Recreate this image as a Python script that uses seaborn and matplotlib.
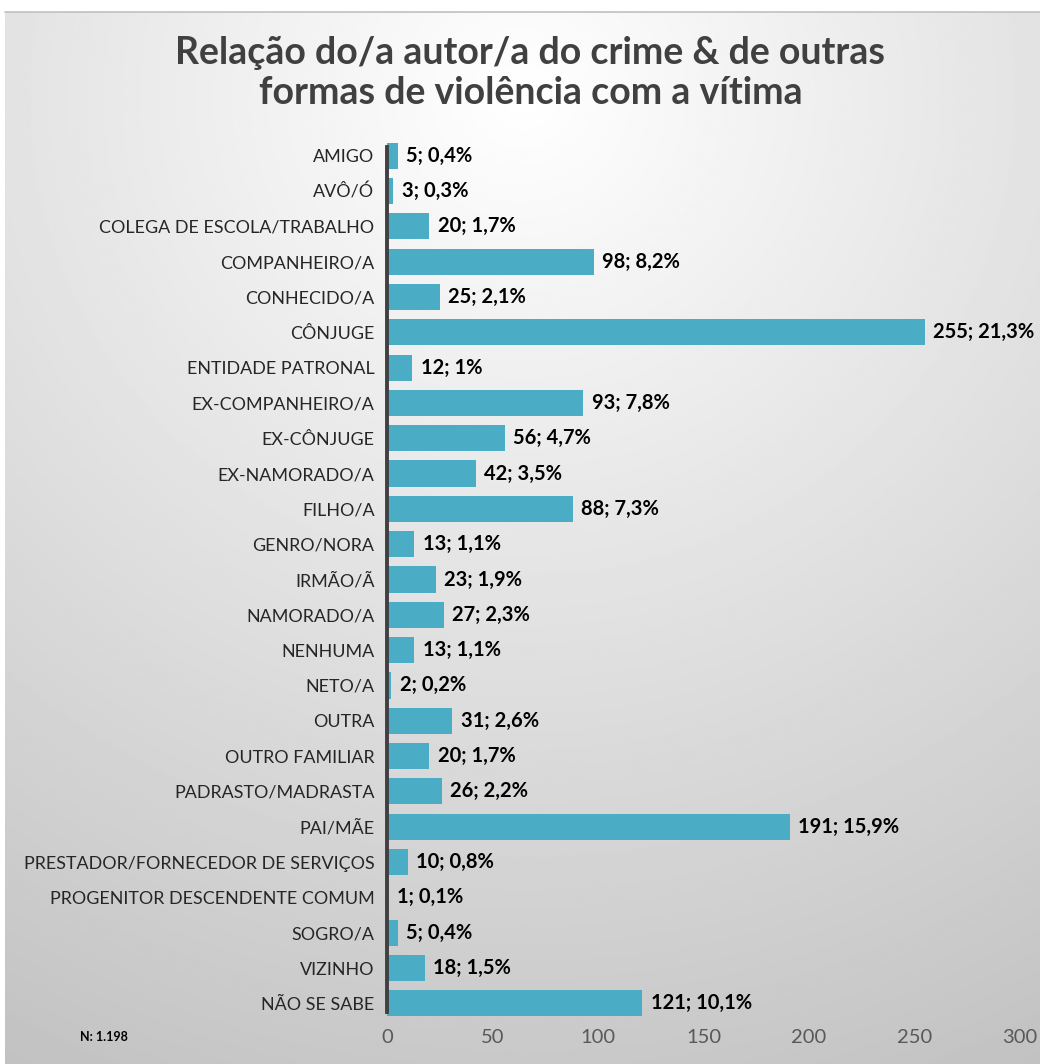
import matplotlib
matplotlib.use('Agg')
import matplotlib.pyplot as plt
import seaborn as sns
import numpy as np
import pandas as pd

# data
categories = ['AMIGO', 'AVÔ/Ó', 'COLEGA DE ESCOLA/TRABALHO', 'COMPANHEIRO/A', 'CONHECIDO/A',
              'CÔNJUGE', 'ENTIDADE PATRONAL', 'EX-COMPANHEIRO/A', 'EX-CÔNJUGE', 'EX-NAMORADO/A',
              'FILHO/A', 'GENRO/NORA', 'IRMÃO/Ã', 'NAMORADO/A', 'NENHUMA', 'NETO/A', 'OUTRA',
              'OUTRO FAMILIAR', 'PADRASTO/MADRASTA', 'PAI/MÃE', 'PRESTADOR/FORNECEDOR DE SERVIÇOS',
              'PROGENITOR DESCENDENTE COMUM', 'SOGRO/A', 'VIZINHO', 'NÃO SE SABE']
counts = [5, 3, 20, 98, 25, 255, 12, 93, 56, 42, 88, 13, 23, 27, 13, 2, 31, 20, 26, 191, 10, 1, 5, 18, 121]
percents = ['0,4%', '0,3%', '1,7%', '8,2%', '2,1%', '21,3%', '1%', '7,8%', '4,7%', '3,5%',
            '7,3%', '1,1%', '1,9%', '2,3%', '1,1%', '0,2%', '2,6%', '1,7%', '2,2%', '15,9%',
            '0,8%', '0,1%', '0,4%', '1,5%', '10,1%']
x_ticks = [0, 50, 100, 150, 200, 250, 300]
title = 'Relação do/a autor/a do crime & de outras\nformas de violência com a vítima'
n_note = 'N: 1.198'

df = pd.DataFrame({'cat': categories, 'n': counts})

sns.set_style('white')
plt.rcParams['font.family'] = ['Lato', 'DejaVu Sans']

fig = plt.figure(figsize=(10.4, 10.64), dpi=100)

# radial grey gradient background
bg = fig.add_axes([5 / 1040, 0, 1 - 5 / 1040, 1 - 12 / 1064], zorder=-10)
yy, xx = np.mgrid[0:1:400j, 0:1:400j]
r = np.sqrt(((xx - 0.5) * 1.0) ** 2 + ((yy - 0.08) * 1.05) ** 2)
shade = 1 - 0.21 * np.clip(r / 0.95, 0, 1.2)
bg.imshow(shade, cmap='gray', vmin=0, vmax=1, aspect='auto', extent=[0, 1, 1, 0])
bg.set_axis_off()
fig.add_artist(plt.Line2D([5 / 1040, 1], [1 - 12 / 1064] * 2, color='#c0c0c0', lw=1.2))

ax = fig.add_axes([387 / 1040, 1 - 1021 / 1064, (1020 - 387) / 1040, (1021 - 138) / 1064])
ax.set_facecolor('none')
sns.barplot(data=df, y='cat', x='n', color='#4BACC6', width=0.74, ax=ax,
            saturation=1, linewidth=0)

ax.set_xlim(0, 300)
ax.set_ylim(24.5, -0.5)
ax.set_xticks(x_ticks)
ax.set_xticklabels([str(t) for t in x_ticks], fontsize=14.5, color='#595959')
ax.tick_params(axis='x', length=0, pad=6)
ax.tick_params(axis='y', length=0, pad=9, labelsize=12.9, labelcolor='#262626')
ax.set_xlabel('')
ax.set_ylabel('')
for s in ['top', 'right', 'bottom']:
    ax.spines[s].set_visible(False)
ax.spines['left'].set_color('#404040')
ax.spines['left'].set_linewidth(2.8)
ax.spines['left'].set_bounds(24.25, -0.25)

for i, (c, p) in enumerate(zip(counts, percents)):
    ax.annotate(f'{c}; {p}', (c, i), xytext=(6, 0), textcoords='offset points',
                va='center', ha='left', fontsize=14.5, fontweight='bold', color='black')

fig.text(0.51, 1 - 73 / 1064, title, ha='center', va='center', fontsize=27,
         fontweight='bold', color='#404040', linespacing=1.2)
fig.text(80 / 1040, 1 - 1037 / 1064, n_note, ha='left', va='center', fontsize=9,
         fontweight='bold', color='black')

fig.savefig('out.png', dpi=100)
